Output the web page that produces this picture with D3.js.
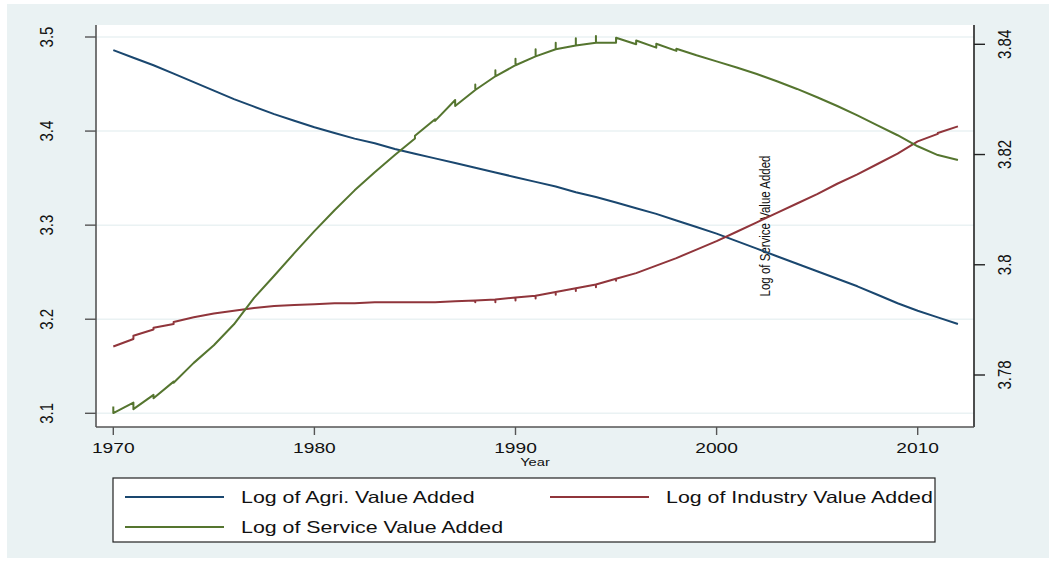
<!DOCTYPE html>
<html>
<head>
<meta charset="utf-8">
<script src="https://cdn.jsdelivr.net/npm/d3@7"></script>
<style>
body { margin: 0; background: #fff; }
text { font-family: "Liberation Sans", Arial, sans-serif; fill: #111; }
</style>
</head>
<body>
<svg width="1049" height="562"></svg>
<script>
var years = [1970, 1971, 1972, 1973, 1974, 1975, 1976, 1977, 1978, 1979,
    1980, 1981, 1982, 1983, 1984, 1985, 1986, 1987, 1988, 1989,
    1990, 1991, 1992, 1993, 1994, 1995, 1996, 1997, 1998, 1999,
    2000, 2001, 2002, 2003, 2004, 2005, 2006, 2007, 2008, 2009,
    2010, 2011, 2012];

// log of agri. value added (left axis)
var agri = [3.486, 3.478, 3.470, 3.461, 3.452, 3.443, 3.434, 3.426, 3.418, 3.411,
    3.404, 3.398, 3.392, 3.387, 3.381, 3.376, 3.371, 3.366, 3.361, 3.356,
    3.351, 3.346, 3.341, 3.335, 3.330, 3.324, 3.318, 3.312, 3.305, 3.298,
    3.291, 3.283, 3.275, 3.267, 3.259, 3.251, 3.243, 3.235, 3.226, 3.217,
    3.209, 3.202, 3.195];

// log of industry value added (left axis), several obs per year in some years
var industry = [[3.171], [3.179, 3.1825], [3.189, 3.191], [3.195, 3.197], [3.202],
    [3.206], [3.209], [3.212], [3.214], [3.215],
    [3.216], [3.217], [3.217], [3.218], [3.218],
    [3.218], [3.218], [3.219], [3.220, 3.218, 3.220], [3.221, 3.218, 3.221],
    [3.223, 3.220, 3.223], [3.225, 3.222, 3.225], [3.229, 3.226, 3.229], [3.233, 3.230, 3.233], [3.237, 3.234, 3.237],
    [3.243, 3.241, 3.243], [3.249], [3.257], [3.265], [3.274],
    [3.283], [3.293], [3.303], [3.313], [3.323],
    [3.333], [3.344], [3.354], [3.365], [3.376],
    [3.389], [3.397, 3.398], [3.405]];

// log of service value added (right axis)
var service = [[3.7743, 3.7731], [3.7750, 3.7738], [3.7764, 3.7758], [3.7788, 3.7786], [3.7822],
    [3.7854], [3.7892], [3.7940], [3.7980], [3.8021],
    [3.8061], [3.8099], [3.8135], [3.8168], [3.8199],
    [3.8229, 3.8234], [3.8264, 3.8261], [3.8299, 3.8288], [3.8317, 3.8327, 3.8317], [3.8342, 3.8353, 3.8342],
    [3.8362, 3.8374, 3.8362], [3.8378, 3.8391, 3.8378], [3.8391, 3.8403, 3.8391], [3.8398, 3.8411, 3.8398], [3.8403, 3.8415, 3.8403],
    [3.8403, 3.8412], [3.8400, 3.8407], [3.8394, 3.8401], [3.8388, 3.8392], [3.8380],
    [3.8369], [3.8358], [3.8346], [3.8333], [3.8319],
    [3.8304], [3.8288], [3.8271], [3.8253], [3.8235],
    [3.8215], [3.8199], [3.8190]];

var xTicks = [1970, 1980, 1990, 2000, 2010];
var leftTicks = [3.1, 3.2, 3.3, 3.4, 3.5];
var rightTicks = [3.78, 3.8, 3.82, 3.84];

var navy = "#1a476f", maroon = "#90353b", green = "#55752f";
var stretch = 1.28; // the picture is widened, text too

var svg = d3.select("svg");
var plot = { left: 96, right: 974, top: 25, bottom: 427 };

var x = d3.scaleLinear().domain([1970, 2010]).range([113.3, 917.7]);
var yL = d3.scaleLinear().domain([3.1, 3.5]).range([413.3, 37]);
var yR = d3.scaleLinear().domain([3.78, 3.84]).range([375, 44.3]);

// backgrounds
svg.append("rect").attr("x", 7).attr("y", 4).attr("width", 1042).attr("height", 554).attr("fill", "#eaf2f3");
svg.append("rect")
    .attr("x", plot.left).attr("y", plot.top)
    .attr("width", plot.right - plot.left).attr("height", plot.bottom - plot.top)
    .attr("fill", "#fff");

// grid
svg.append("g").selectAll("line")
    .data(leftTicks)
    .enter().append("line")
    .attr("x1", plot.left).attr("x2", plot.right)
    .attr("y1", d => yL(d)).attr("y2", d => yL(d))
    .attr("stroke", "#eaf2f3").attr("stroke-width", 1.5);

// axes lines
svg.append("line").attr("x1", plot.left).attr("x2", plot.left).attr("y1", plot.top).attr("y2", plot.bottom)
    .attr("stroke", "#555").attr("stroke-width", 1.6);
svg.append("line").attr("x1", plot.right).attr("x2", plot.right).attr("y1", plot.top).attr("y2", plot.bottom)
    .attr("stroke", "#222").attr("stroke-width", 1.6);
svg.append("line").attr("x1", plot.left).attr("x2", plot.right).attr("y1", plot.bottom).attr("y2", plot.bottom)
    .attr("stroke", "#555").attr("stroke-width", 1.6);

// left ticks + labels
var gl = svg.append("g");
gl.selectAll("line").data(leftTicks).enter().append("line")
    .attr("x1", plot.left - 11).attr("x2", plot.left)
    .attr("y1", d => yL(d)).attr("y2", d => yL(d))
    .attr("stroke", "#555").attr("stroke-width", 1.4);
gl.selectAll("text").data(leftTicks).enter().append("text")
    .attr("transform", d => "translate(53," + yL(d) + ") scale(" + stretch + ",1) rotate(-90)")
    .attr("text-anchor", "middle")
    .style("font-size", "15px")
    .text(d => d3.format(".1f")(d));

// right ticks + labels
var gr = svg.append("g");
gr.selectAll("line").data(rightTicks).enter().append("line")
    .attr("x1", plot.right).attr("x2", plot.right + 11)
    .attr("y1", d => yR(d)).attr("y2", d => yR(d))
    .attr("stroke", "#222").attr("stroke-width", 1.4);
gr.selectAll("text").data(rightTicks).enter().append("text")
    .attr("transform", d => "translate(1011," + yR(d) + ") scale(" + stretch + ",1) rotate(-90)")
    .attr("text-anchor", "middle")
    .style("font-size", "15px")
    .text(d => d3.format("")(d));

// x ticks + labels
var gx = svg.append("g");
gx.selectAll("line").data(xTicks).enter().append("line")
    .attr("x1", d => x(d)).attr("x2", d => x(d))
    .attr("y1", plot.bottom).attr("y2", plot.bottom + 8)
    .attr("stroke", "#555").attr("stroke-width", 1.4);
gx.selectAll("text").data(xTicks).enter().append("text")
    .attr("transform", d => "translate(" + x(d) + ",453) scale(" + stretch + ",1)")
    .attr("text-anchor", "middle")
    .style("font-size", "15px")
    .text(d => d);

// axis titles
svg.append("text")
    .attr("transform", "translate(" + (plot.left + plot.right) / 2 + ",466) scale(" + stretch + ",1)")
    .attr("text-anchor", "middle")
    .style("font-size", "11.5px")
    .text("Year");
svg.append("text")
    .attr("transform", "translate(770,226) scale(" + stretch + ",1) rotate(-90)")
    .attr("text-anchor", "middle")
    .style("font-size", "11.5px")
    .text("Log of Service Value Added");

// series lines
function flatten(vals) {
    var pts = [];
    vals.forEach(function(v, i) {
        [].concat(v).forEach(function(w) { pts.push({ year: years[i], value: w }); });
    });
    return pts;
}

var lineL = d3.line().x(d => x(d.year)).y(d => yL(d.value));
var lineR = d3.line().x(d => x(d.year)).y(d => yR(d.value));

var series = [
    { name: "Log of Agri. Value Added", vals: agri, color: navy, line: lineL },
    { name: "Log of Industry Value Added", vals: industry, color: maroon, line: lineL },
    { name: "Log of Service Value Added", vals: service, color: green, line: lineR }
];

series.forEach(function(s) {
    svg.append("path")
        .attr("d", s.line(flatten(s.vals)))
        .attr("fill", "none")
        .attr("stroke", s.color)
        .attr("stroke-width", 2)
        .attr("stroke-linejoin", "round");
});

// legend
var legend = svg.append("g");
legend.append("rect")
    .attr("x", 113).attr("y", 478).attr("width", 822).attr("height", 64)
    .attr("fill", "#fff").attr("stroke", "#222").attr("stroke-width", 1.2);

var legPos = [
    { lx: 125, ly: 497 },
    { lx: 550, ly: 497 },
    { lx: 125, ly: 527 }
];

series.forEach(function(s, i) {
    var p = legPos[i];
    legend.append("line")
        .attr("x1", p.lx).attr("x2", p.lx + 99)
        .attr("y1", p.ly).attr("y2", p.ly)
        .attr("stroke", s.color).attr("stroke-width", 2);
    legend.append("text")
        .attr("transform", "translate(" + (p.lx + 116) + "," + (p.ly + 6) + ") scale(" + stretch + ",1)")
        .style("font-size", "16.7px")
        .text(s.name);
});
</script>
</body>
</html>
